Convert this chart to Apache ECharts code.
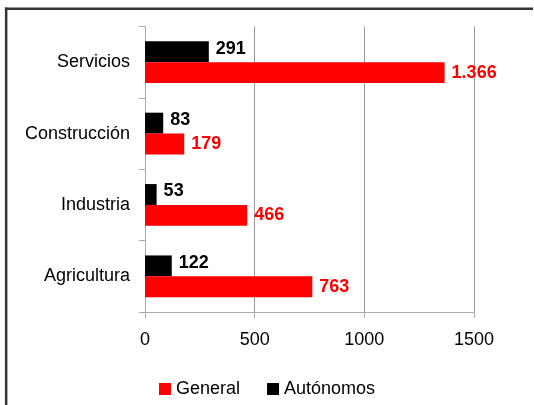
<!DOCTYPE html>
<html><head><meta charset="utf-8">
<script src="https://cdn.jsdelivr.net/npm/echarts@6/dist/echarts.min.js"></script>
<style>html,body{margin:0;padding:0;background:#fff}#c{width:534px;height:405px}</style>
</head><body><div id="c"></div>
<script>
const categories = ['Agricultura', 'Industria', 'Construcción', 'Servicios'];
const generalValues = [763, 466, 179, 1366];
const autonomosValues = [122, 53, 83, 291];
const xTicks = [0, 500, 1000, 1500];

const fmt = v => String(v).replace(/\B(?=(\d{3})+(?!\d))/g, '.');
const FONT = '"Liberation Sans", Arial, sans-serif';

const chart = echarts.init(document.getElementById('c'));
chart.setOption({
  animation: false,
  textStyle: { fontFamily: FONT },
  graphic: [
    { type: 'line', shape: { x1: 5, y1: 8.75, x2: 533, y2: 8.75 }, style: { stroke: '#333', lineWidth: 2.5 } },
    { type: 'line', shape: { x1: 6.15, y1: 7.5, x2: 6.15, y2: 405 }, style: { stroke: '#333', lineWidth: 2.5 } }
  ],
  grid: { left: 145, top: 26.5, width: 329, height: 285.5, containLabel: false },
  legend: {
    top: 375, left: 154,
    itemWidth: 12, itemHeight: 12, itemGap: 27,
    icon: 'rect',
    textStyle: { fontSize: 18, color: '#000', fontFamily: FONT },
    data: ['General', 'Autónomos']
  },
  xAxis: {
    type: 'value', min: 0, max: 1500, interval: 500,
    axisLine: { show: true, lineStyle: { color: '#aaa' } },
    axisTick: { show: true, length: 6, lineStyle: { color: '#aaa' } },
    axisLabel: { fontSize: 18, color: '#000', margin: 19, fontFamily: FONT,
      formatter: v => xTicks.includes(v) ? String(v) : '' },
    splitLine: { show: true, lineStyle: { color: '#999', width: 1 } }
  },
  yAxis: {
    type: 'category', data: categories,
    axisLine: { show: true, lineStyle: { color: '#aaa' } },
    axisTick: { show: true, length: 6, lineStyle: { color: '#aaa' } },
    axisLabel: { fontSize: 18, color: '#000', margin: 15, fontFamily: FONT }
  },
  series: [
    {
      name: 'Autónomos', type: 'bar', data: autonomosValues,
      itemStyle: { color: '#000000' },
      barGap: '0%', barCategoryGap: '41.5%',
      label: { show: true, position: 'right', distance: 7, color: '#000', fontWeight: 'bold', fontSize: 18, fontFamily: FONT, offset: [0, -3], formatter: p => fmt(p.value) }
    },
    {
      name: 'General', type: 'bar', data: generalValues,
      itemStyle: { color: '#ff0000' },
      barGap: '0%', barCategoryGap: '41.5%',
      label: { show: true, position: 'right', distance: 7, color: '#ff0000', fontWeight: 'bold', fontSize: 18, fontFamily: FONT, formatter: p => fmt(p.value) }
    }
  ]
});
</script></body></html>
